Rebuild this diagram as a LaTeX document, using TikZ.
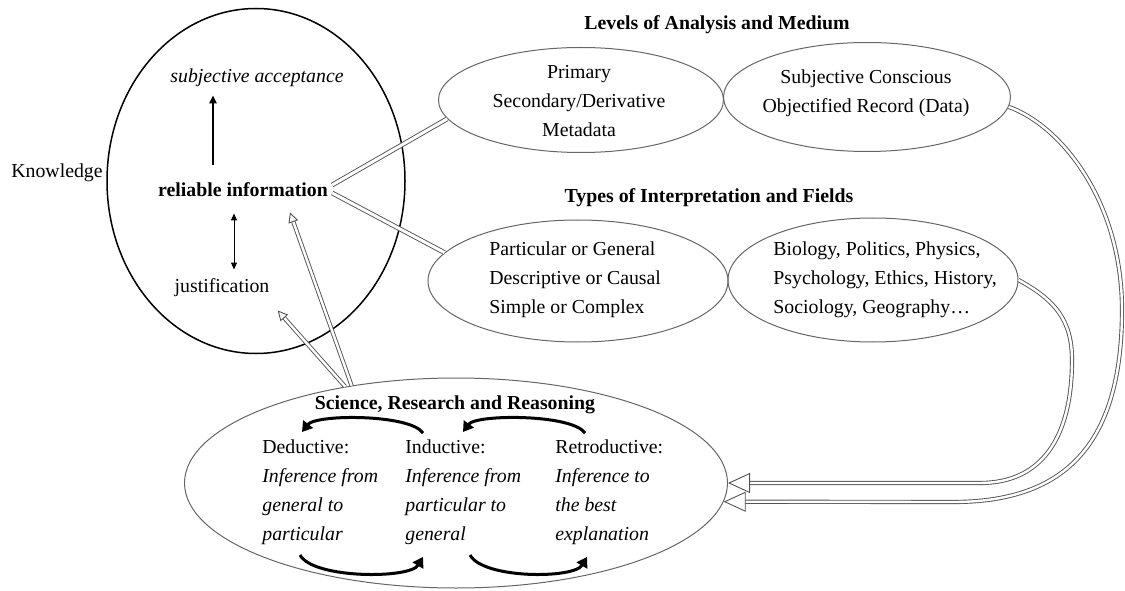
\documentclass[tikz,border=0pt]{standalone}
\usepackage{fontspec}
\setmainfont{Liberation Serif}
\usepackage{tikz}
\usetikzlibrary{shapes.geometric, arrows.meta}
\newcommand{\figsize}{\fontsize{9.9}{14.5}\selectfont}
\tikzstyle{oval} = [ellipse, draw=gray!80!black, line width=0.5pt, inner sep=0pt]
\tikzstyle{pipe} = [draw=gray!65!black, double=white, line width=0.45pt, double distance=1.5pt]
\tikzstyle{bigpipe} = [pipe, double distance=1.2pt, -{Triangle[open,length=11pt,width=10pt]}]
\tikzstyle{smallpipe} = [pipe, double distance=1.2pt, -{Triangle[open,length=5pt,width=5pt]}]
\tikzstyle{cyclearrow} = [line width=1.5pt, -{Triangle[length=5pt,width=6pt]}]

\begin{document}
\begin{tikzpicture}[x=0.5pt, y=0.5pt, every node/.style={font=\figsize, inner sep=2pt}]
        \useasboundingbox (0,0) rectangle (1125,590);

        % Knowledge
        \node[oval, draw=black, line width=0.75pt, minimum width=149pt, minimum height=172.5pt] (kn) at (256,409) {};
        \node (know) at (57,417) {Knowledge};
        \node (subj) at (257,512) {\textit{subjective acceptance}};
        \node (rel) at (243,400) {\textbf{reliable information}};
        \node (just) at (222,302) {justification};
        \coordinate (ax) at (213,0);
        \coordinate (bx) at (234,0);
        \draw[line width=1pt, -{Triangle[length=4pt,width=3.5pt]}, shorten <=7pt, shorten >=2pt] (ax |- rel.north) -- (ax |- subj.south);
        \draw[line width=0.5pt, {Triangle[length=3.5pt,width=3pt]}-{Triangle[length=3.5pt,width=3pt]}, shorten <=6pt, shorten >=2.5pt] (bx |- rel.south) -- (bx |- just.north);

        % Levels of analysis and medium
        \node (levels) at (717,565) {\textbf{Levels of Analysis and Medium}};
        \node[oval, minimum width=142.5pt, minimum height=52.5pt] (prim) at (581,490) {};
        \node[oval, minimum width=143.5pt, minimum height=54.5pt] (sub) at (867,493) {};
        \node[align=center] (primt) at (579,489) {Primary\\Secondary/Derivative\\Metadata};
        \node[align=center] (subt) at (866,497) {Subjective Conscious\\Objectified Record (Data)};

        % Types of interpretation and fields
        \node (types) at (709,392) {\textbf{Types of Interpretation and Fields}};
        \node[oval, minimum width=150pt, minimum height=61pt] (part) at (578,309) {};
        \node[oval, minimum width=145pt, minimum height=62pt] (bio) at (873,310) {};
        \node[align=left, anchor=west] (partt) at (485,310) {Particular or General\\Descriptive or Causal\\Simple or Complex};
        \node[align=left, anchor=west] (biot) at (769,310) {Biology, Politics, Physics,\\Psychology, Ethics, History,\\Sociology, Geography\ldots};

        % Science, research and reasoning
        \node[oval, minimum width=271.5pt, minimum height=105pt] (sci) at (456,107) {};
        \node (scit) at (455,185) {\textbf{Science, Research and Reasoning}};
        \node[align=left, anchor=west] (ded) at (258,97.5) {Deductive:\\\textit{Inference from}\\\textit{general to}\\\textit{particular}};
        \node[align=left, anchor=west] (ind) at (401,97.5) {Inductive:\\\textit{Inference from}\\\textit{particular to}\\\textit{general}};
        \node[align=left, anchor=west] (ret) at (551,97.5) {Retroductive:\\\textit{Inference to}\\\textit{the best}\\\textit{explanation}};
        \coordinate (d1) at (302,158);
        \coordinate (i1) at (423,157);
        \coordinate (i2) at (463,158);
        \coordinate (r1) at (585,157);
        \coordinate (d2) at (300,35);
        \coordinate (i3) at (423,33);
        \coordinate (i4) at (470,35);
        \coordinate (r2) at (587,33);
        \draw[cyclearrow] (i1) .. controls (410,176) and (316,176) .. (d1);
        \draw[cyclearrow] (r1) .. controls (572,176) and (476,176) .. (i2);
        \draw[cyclearrow] (d2) .. controls (313,11) and (410,11) .. (i3);
        \draw[cyclearrow] (i4) .. controls (483,11) and (574,11) .. (r2);

        % Connections
        \draw[pipe] ([yshift=2.5pt]rel.east) -- (prim.188);
        \draw[pipe] ([yshift=-1.5pt]rel.east) -- (part.168);
        \draw[smallpipe] (sci.139) -- ([xshift=2pt,yshift=-4.5pt]just.south east);
        \draw[smallpipe] (sci.137) -- ([xshift=23.5pt,yshift=-5.5pt]rel.south);
        \draw[bigpipe] (sub.-4) .. controls (1060,465) and (1122,390) .. (1122,280) .. controls (1122,140) and (1060,88) .. (953,88) -- (sci.-4);
        \draw[bigpipe] (bio.east) .. controls (1055,290) and (1072,270) .. (1072,230) .. controls (1072,150) and (1040,107) .. (980,107) -- (sci.east);
\end{tikzpicture}
\end{document}
